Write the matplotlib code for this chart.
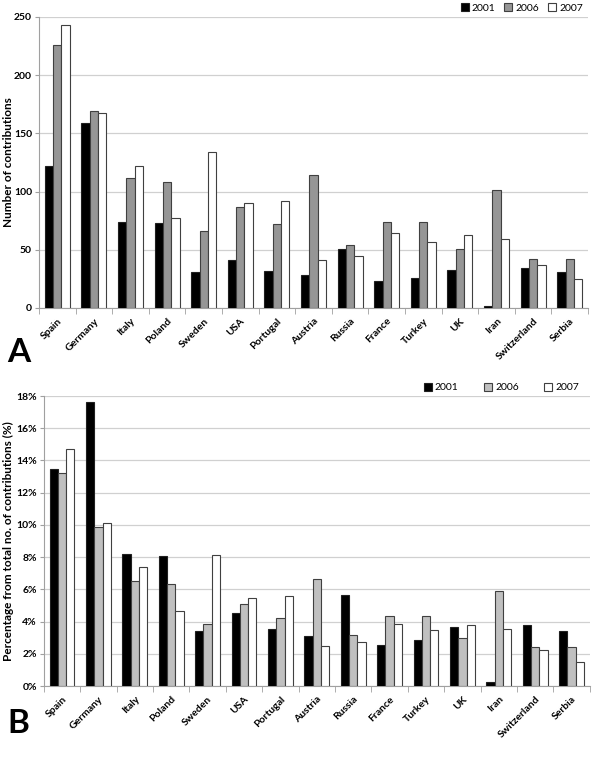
import matplotlib
matplotlib.use('Agg')
import matplotlib.pyplot as plt
import numpy as np
from matplotlib.ticker import FuncFormatter, FixedLocator

plt.rcParams['font.family'] = ['Lato', 'DejaVu Sans']

countries = ['Spain', 'Germany', 'Italy', 'Poland', 'Sweden', 'USA', 'Portugal',
             'Austria', 'Russia', 'France', 'Turkey', 'UK', 'Iran', 'Switzerland', 'Serbia']
years = ['2001', '2006', '2007']

# panel A: number of contributions
count_2001 = [122, 159, 74, 73, 31, 41, 32, 28, 51, 23, 26, 33, 2, 34, 31]
count_2006 = [226, 169, 112, 108, 66, 87, 72, 114, 54, 74, 74, 51, 101, 42, 42]
count_2007 = [243, 167, 122, 77, 134, 90, 92, 41, 45, 64, 57, 63, 59, 37, 25]

# panel B: percentage of total contributions
pct_2001 = [13.5, 17.6, 8.2, 8.1, 3.43, 4.55, 3.55, 3.1, 5.65, 2.55, 2.88, 3.65, 0.22, 3.77, 3.43]
pct_2006 = [13.2, 9.87, 6.54, 6.31, 3.86, 5.08, 4.21, 6.66, 3.15, 4.32, 4.32, 2.98, 5.9, 2.45, 2.45]
pct_2007 = [14.7, 10.1, 7.38, 4.66, 8.11, 5.44, 5.57, 2.48, 2.72, 3.87, 3.45, 3.81, 3.57, 2.24, 1.51]

fig = plt.figure(figsize=(6, 7.66), dpi=100)
axA = fig.add_axes([0.065, 0.598, 0.915, 0.38])
axB = fig.add_axes([0.073, 0.1044, 0.910, 0.3786])

x = np.arange(len(countries))
w = 0.227
grid_col = '#d0d0d0'


def draw_panel(ax, series, colors, ymax, ystep, ylabel, fmt, label_x, leg_x, colsp):
    edges = ['#202020', '#404040', '#404040']
    for i, (vals, col) in enumerate(zip(series, colors)):
        ax.bar(x + (i - 1) * w, vals, width=w, color=col, edgecolor=edges[i],
               linewidth=0.8, label=years[i], zorder=3)
    ax.set_xlim(-0.5, len(countries) - 0.5)
    ax.set_ylim(0, ymax)
    ax.set_yticks(np.arange(0, ymax + ystep / 2, ystep))
    ax.yaxis.set_major_formatter(FuncFormatter(fmt))
    ax.grid(axis='y', color=grid_col, linewidth=0.9, zorder=0)
    for s in ['top', 'right']:
        ax.spines[s].set_visible(False)
    ax.spines['left'].set_color('#a0a0a0')
    ax.spines['bottom'].set_color('#a0a0a0')
    ax.set_xticks(x)
    ax.set_xticklabels(countries, rotation=45, ha='right', rotation_mode='anchor',
                       fontsize=7.5, fontweight='bold')
    ax.tick_params(axis='x', length=0, pad=6)
    ax.xaxis.set_minor_locator(FixedLocator(np.arange(-0.5, len(countries), 1.0)))
    ax.tick_params(axis='x', which='minor', length=4, color='#a0a0a0')
    ax.tick_params(axis='y', length=3, color='#a0a0a0', labelsize=7.5, pad=2)
    for t in ax.get_yticklabels():
        t.set_fontweight('bold')
    ax.set_ylabel(ylabel, fontsize=8.5, fontweight='bold')
    ax.yaxis.set_label_coords(label_x, 0.5)
    leg = ax.legend(loc='lower right', bbox_to_anchor=(leg_x, 0.995), ncol=3, frameon=False,
                    fontsize=7.5, handlelength=0.8, handleheight=0.8, columnspacing=colsp,
                    handletextpad=0.3, borderaxespad=0.1)
    for p in leg.get_patches():
        p.set_linewidth(0.8)


draw_panel(axA, [count_2001, count_2006, count_2007], ['black', '#969696', 'white'],
           250, 50, 'Number of contributions', lambda v, p: f'{int(v)}', -0.046, 1.0, 0.8)
draw_panel(axB, [pct_2001, pct_2006, pct_2007], ['black', '#c0c0c0', 'white'],
           18, 2, 'Percentage from total no. of contributions (%)', lambda v, p: f'{int(v)}%',
           -0.055, 0.99, 2.4)

fig.text(0.032, 0.54, 'A', fontsize=24, fontweight='bold', ha='center', va='center')
fig.text(0.030, 0.056, 'B', fontsize=24, fontweight='bold', ha='center', va='center')

fig.savefig('out.png', dpi=100)
